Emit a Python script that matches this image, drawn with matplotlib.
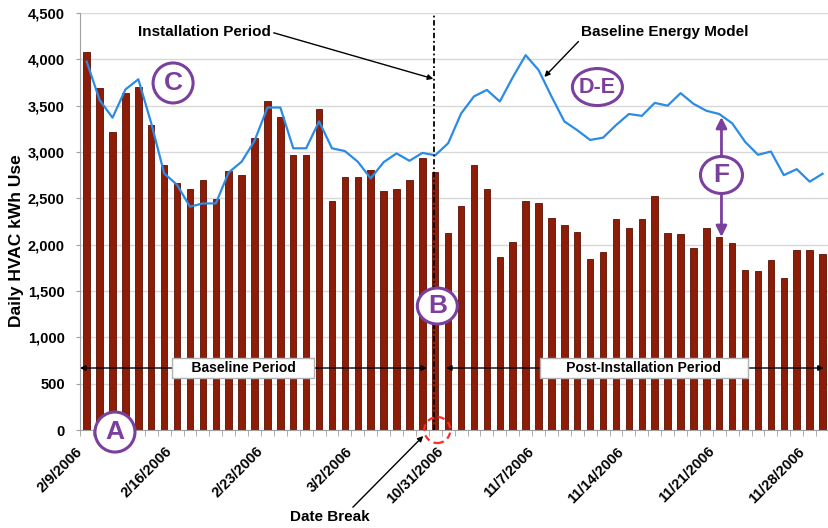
import matplotlib
matplotlib.use('Agg')
import matplotlib.pyplot as plt
from matplotlib.patches import Ellipse
from matplotlib.ticker import FuncFormatter
from matplotlib.transforms import ScaledTranslation
import numpy as np

# daily HVAC use, 2/9/2006-3/8/2006 then 10/31/2006-11/29/2006
kwh_use = [4080, 3690, 3220, 3640, 3705, 3290, 2860, 2670, 2600, 2700,
           2495, 2790, 2750, 3150, 3550, 3375, 2970, 2970, 3465, 2470,
           2725, 2735, 2805, 2580, 2600, 2700, 2940, 2780,
           2130, 2415, 2855, 2600, 1865, 2030, 2475, 2445, 2290, 2210,
           2140, 1840, 1925, 2275, 2180, 2275, 2525, 2130, 2120, 1960,
           2185, 2080, 2015, 1725, 1715, 1835, 1645, 1940, 1940, 1895]

baseline_model = [3975, 3560, 3370, 3675, 3785, 3310, 2770, 2645, 2410, 2445,
                  2445, 2780, 2895, 3120, 3480, 3480, 3040, 3040, 3330, 3040,
                  3010, 2895, 2715, 2890, 2985, 2905, 2990, 2965, 3095, 3415,
                  3600, 3670, 3545, 3805, 4045, 3885, 3600, 3330, 3235, 3130,
                  3155, 3290, 3410, 3390, 3530, 3500, 3635, 3520, 3445, 3410,
                  3310, 3110, 2970, 3005, 2750, 2815, 2680, 2765]

tick_labels = ['2/9/2006', '2/16/2006', '2/23/2006', '3/2/2006', '10/31/2006',
               '11/7/2006', '11/14/2006', '11/21/2006', '11/28/2006']

plt.rcParams['font.family'] = ['Liberation Sans', 'DejaVu Sans']
purple = '#7b3f9e'

fig = plt.figure(figsize=(8.29, 5.28), dpi=100)
ax = fig.add_axes([80 / 829, 98 / 528, 749 / 829, 417 / 528])

x = np.arange(len(kwh_use))
ax.bar(x, kwh_use, width=0.5, color='#8e1d07', edgecolor='#5a1003',
       linewidth=0.6, zorder=2)
ax.plot(x, baseline_model, color='#2b8be6', lw=1.6, zorder=3)

ax.set_xlim(-0.52, len(x) - 0.5)
ax.set_ylim(0, 4500)
ax.set_yticks(np.arange(0, 4501, 500))
ax.yaxis.set_major_formatter(FuncFormatter(lambda v, p: f'{v:,.0f}'))
ax.grid(axis='y', color='#d8d8d8', lw=1, zorder=0)
for s in ['top', 'right']:
    ax.spines[s].set_visible(False)
for s in ['left', 'bottom']:
    ax.spines[s].set_color('#a0a0a0')
ax.tick_params(axis='y', length=3, color='#a0a0a0', pad=8, labelsize=10.5)
for lab in ax.get_yticklabels():
    lab.set_fontweight('bold')

ax.set_xticks(x[::7])
ax.set_xticklabels(tick_labels, fontsize=10.5, fontweight='bold')
ax.set_xticks(np.arange(-0.5, len(x), 1), minor=True)
ax.tick_params(axis='x', which='major', length=0, pad=14)
ax.tick_params(axis='x', which='minor', length=4, color='#a0a0a0')
shift = ScaledTranslation(-0.07, 0, fig.dpi_scale_trans)
for lab in ax.get_xticklabels():
    lab.set_rotation(45)
    lab.set_ha('right')
    lab.set_va('center')
    lab.set_rotation_mode('anchor')
    lab.set_transform(lab.get_transform() + shift)

fig.text(17 / 829, 1 - 241 / 528, 'Daily HVAC kWh Use', rotation=90,
         ha='center', va='center', fontsize=12.5, fontweight='bold')

# installation break
ax.axvline(26.94, color='black', lw=1.3, ls=(0, (3, 1.5, 1, 1.5)), zorder=4)

# pixel -> data helpers
xpp = (len(x) - 0.5 + 0.52) / 749
ypp = 4500 / 417

ax.add_patch(Ellipse((27.16, 0), 26 * xpp, 26 * ypp, fc='none', ec='#ff2a2a',
                     lw=1.6, ls=(0, (3, 2)), clip_on=False, zorder=6))

arrow = dict(arrowstyle='-|>', color='black', lw=1, mutation_scale=8,
             shrinkA=0, shrinkB=0)
ax.annotate('Installation Period', xy=(26.85, 3790), xytext=(3.98, 4295),
            ha='left', va='center', fontsize=11, fontweight='bold',
            arrowprops=dict(arrow, relpos=(1, 0.5)), zorder=5)
ax.annotate('Baseline Energy Model', xy=(35.45, 3810), xytext=(38.3, 4298),
            ha='left', va='center', fontsize=11, fontweight='bold',
            arrowprops=dict(arrow, relpos=(0, 0)), zorder=5)
ax.annotate('Date Break', xy=(26.07, -65), xytext=(18.86, -939),
            ha='center', va='center', fontsize=11, fontweight='bold',
            arrowprops=dict(arrow, relpos=(0.75, 1)), annotation_clip=False,
            zorder=5)

# period arrows
box = dict(boxstyle='square,pad=0.25', fc='white', ec='#b0b0b0', lw=1)
for cx, x0, x1, txt in [(12.13, -0.52, 26.36, '    Baseline Period    '),
                        (43.16, 27.83, 57.1, '      Post-Installation Period      ')]:
    for end in (x0, x1):
        ax.annotate('', xy=(end, 669), xytext=(cx, 669),
                    arrowprops=dict(arrow), annotation_clip=False, zorder=5)
    ax.text(cx, 669, txt, ha='center', va='center', fontsize=10,
            fontweight='bold', bbox=box, zorder=6)

# lettered markers
for cx, cy, w, h, txt, fs in [(2.19, -22, 40, 40, 'A', 19),
                              (6.69, 3745, 40, 40, 'C', 19),
                              (27.16, 1338, 40, 36, 'B', 19),
                              (39.56, 3701, 50, 37, 'D-E', 15.5),
                              (49.17, 2752, 42, 37, 'F', 19)]:
    ax.add_patch(Ellipse((cx, cy), w * xpp, h * ypp, fc='white', ec=purple,
                         lw=2.2, clip_on=False, zorder=7))
    ax.text(cx, cy, txt, ha='center', va='center', color=purple, fontsize=fs,
            fontweight='bold', zorder=8, clip_on=False)

parrow = dict(arrowstyle='-|>', color=purple, lw=2, mutation_scale=16,
              shrinkA=0, shrinkB=0)
ax.annotate('', xy=(49.17, 3378), xytext=(49.17, 2752 + 18.5 * ypp),
            arrowprops=parrow, zorder=7)
ax.annotate('', xy=(49.17, 2083), xytext=(49.17, 2752 - 18.5 * ypp),
            arrowprops=parrow, zorder=7)

fig.savefig('out.png', dpi=100)
